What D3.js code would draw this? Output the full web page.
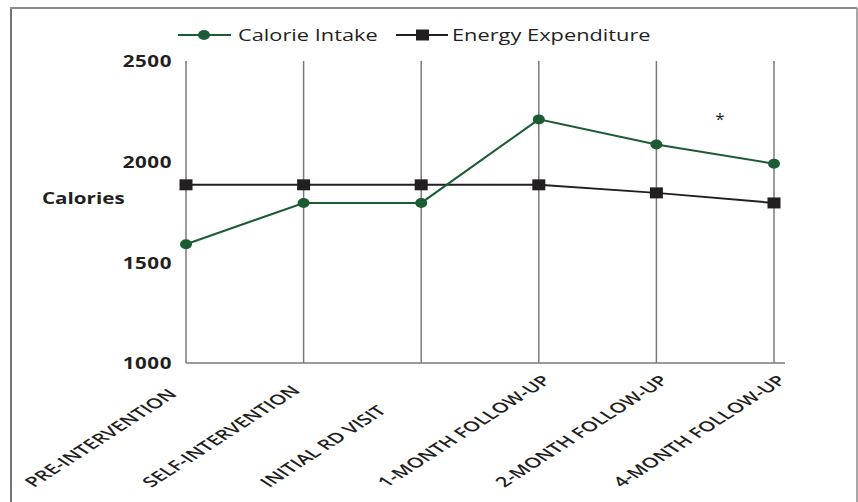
<!DOCTYPE html>
<html>
<head>
<meta charset="utf-8">
<script src="https://cdn.jsdelivr.net/npm/d3@7"></script>
<style>
  html, body { margin: 0; padding: 0; background: #fff; }
  svg { display: block; font-family: "Open Sans", "Noto Sans", sans-serif; }
</style>
</head>
<body>
<svg id="chart" width="858" height="502"></svg>
<script>
// Study time points
const categories = [
  "PRE-INTERVENTION",
  "SELF-INTERVENTION",
  "INITIAL RD VISIT",
  "1-MONTH FOLLOW-UP",
  "2-MONTH FOLLOW-UP",
  "4-MONTH FOLLOW-UP"
];
// Daily calories at each time point
const calorieIntake = [1590, 1795, 1795, 2210, 2085, 1990];
const energyExpenditure = [1885, 1885, 1885, 1885, 1845, 1795];
const yTicks = [1000, 1500, 2000, 2500];
const seriesNames = ["Calorie Intake", "Energy Expenditure"];

const green = "#1c5c35";
const black = "#231f20";
const gridGray = "#7a7a7a";
// the figure's lettering is set wide
const wide = 1.33;
const wideRot = 1.55;

const svg = d3.select("#chart");

// outer panel frame
svg.append("line").attr("x1", 11).attr("x2", 11).attr("y1", 8).attr("y2", 510)
  .attr("stroke", "#444").attr("stroke-width", 1.5);
svg.append("line").attr("x1", 10).attr("x2", 857).attr("y1", 8).attr("y2", 8)
  .attr("stroke", "#8a8a8a").attr("stroke-width", 2);
svg.append("line").attr("x1", 857).attr("x2", 857).attr("y1", 8).attr("y2", 510)
  .attr("stroke", "#8a8a8a").attr("stroke-width", 1.5);

const x = d3.scalePoint().domain(categories).range([186, 774]);
const y = d3.scaleLinear().domain([1000, 2500]).range([363, 61]);

// vertical grid line at each time point
svg.append("g").selectAll("line").data(categories).join("line")
  .attr("x1", d => x(d)).attr("x2", d => x(d))
  .attr("y1", y(2500)).attr("y2", y(1000))
  .attr("stroke", gridGray).attr("stroke-width", 1.5);

// baseline
svg.append("line").attr("x1", x(categories[0])).attr("x2", 785)
  .attr("y1", y(1000)).attr("y2", y(1000))
  .attr("stroke", gridGray).attr("stroke-width", 1.5);

// y tick labels
svg.append("g").selectAll("text").data(yTicks).join("text")
  .attr("transform", d => `translate(172,${y(d) + 1}) scale(${wide},1)`)
  .attr("dy", "0.35em")
  .attr("text-anchor", "end")
  .attr("font-size", 15.5).attr("font-weight", 700)
  .attr("letter-spacing", 0.4)
  .attr("fill", black)
  .text(d => d);

svg.append("text")
  .attr("transform", `translate(42,199) scale(${wide},1)`)
  .attr("dy", "0.35em")
  .attr("font-size", 15.5).attr("font-weight", 700)
  .attr("fill", black).text("Calories");

// x category labels, rotated
svg.append("g").selectAll("text").data(categories).join("text")
  .attr("transform", d => `translate(${x(d) - 152},488) scale(${wideRot},1) rotate(-45)`)
  .attr("font-size", 14).attr("font-weight", 600)
  .attr("fill", black)
  .text(d => d);

const line = d3.line().x((d, i) => x(categories[i])).y(d => y(d));

// energy expenditure series
svg.append("path").datum(energyExpenditure)
  .attr("d", line).attr("fill", "none")
  .attr("stroke", black).attr("stroke-width", 2);
svg.append("g").selectAll("rect").data(energyExpenditure).join("rect")
  .attr("x", (d, i) => x(categories[i]) - 6.5)
  .attr("y", d => y(d) - 5.5)
  .attr("width", 13).attr("height", 11)
  .attr("fill", black);

// calorie intake series
svg.append("path").datum(calorieIntake)
  .attr("d", line).attr("fill", "none")
  .attr("stroke", green).attr("stroke-width", 2);
svg.append("g").selectAll("ellipse").data(calorieIntake).join("ellipse")
  .attr("cx", (d, i) => x(categories[i]))
  .attr("cy", d => y(d))
  .attr("rx", 6).attr("ry", 5)
  .attr("fill", green);

// significance marker
svg.append("text").attr("x", 720).attr("y", 125)
  .attr("text-anchor", "middle").attr("font-size", 17)
  .attr("fill", black).text("*");

// legend
const legend = svg.append("g");
legend.append("line").attr("x1", 178).attr("x2", 231).attr("y1", 35).attr("y2", 35)
  .attr("stroke", green).attr("stroke-width", 2);
legend.append("ellipse").attr("cx", 204).attr("cy", 35).attr("rx", 6).attr("ry", 5)
  .attr("fill", green);
legend.append("text")
  .attr("transform", `translate(238,35) scale(${wide},1)`)
  .attr("dy", "0.35em")
  .attr("font-size", 16.4).attr("fill", black).text(seriesNames[0]);

legend.append("line").attr("x1", 396).attr("x2", 448).attr("y1", 35).attr("y2", 35)
  .attr("stroke", black).attr("stroke-width", 2);
legend.append("rect").attr("x", 416).attr("y", 29.5).attr("width", 13).attr("height", 11)
  .attr("fill", black);
legend.append("text")
  .attr("transform", `translate(452,35) scale(${wide},1)`)
  .attr("dy", "0.35em")
  .attr("font-size", 16.4).attr("fill", black).text(seriesNames[1]);
</script>
</body>
</html>
